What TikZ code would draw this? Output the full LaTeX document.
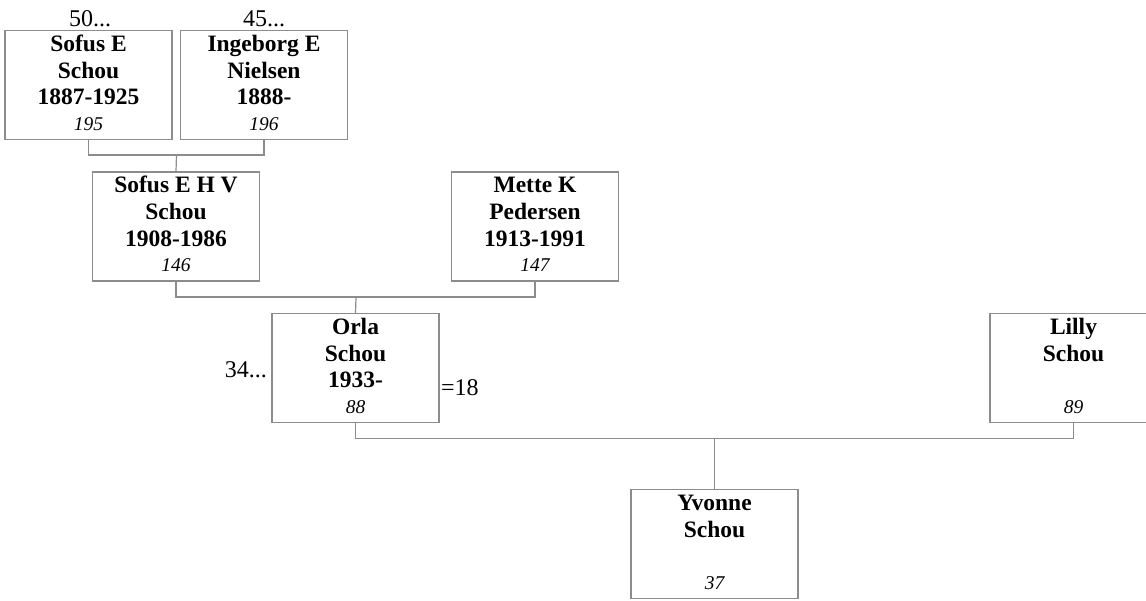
\documentclass[tikz,border=0pt]{standalone}
\usepackage{fontspec}
\setmainfont{Liberation Serif}
\definecolor{boxgray}{RGB}{140,140,140}
\definecolor{linegray}{RGB}{140,140,140}
\tikzset{
  box/.style={draw=boxgray, line width=1.2pt, minimum width=167pt, minimum height=109pt, inner sep=0pt},
  nm/.style={font=\fontsize{23.5}{26}\selectfont\bfseries, anchor=base, inner sep=0pt},
  num/.style={font=\fontsize{19.5}{22}\selectfont\itshape, anchor=base, inner sep=0pt},
  lab/.style={font=\fontsize{24}{26}\selectfont, anchor=base, inner sep=0pt},
  link/.style={draw=linegray, line width=1.2pt}
}
% #1 node name, #2 position, #3 line1, #4 line2, #5 line3, #6 number
\newcommand\personbox[6]{%
  \node[box] (#1) at (#2) {};
  \node[nm] (#1-a) at ([yshift=-21.5pt]#1.north) {#3};
  \node[nm] (#1-b) at ([yshift=-48.5pt]#1.north) {#4};
  \node[nm] (#1-c) at ([yshift=-75pt]#1.north) {#5};
  \node[num] (#1-n) at ([yshift=-100.5pt]#1.north) {#6};
}
\begin{document}
\begin{tikzpicture}[x=1pt,y=-1pt]
\useasboundingbox (0,0) rectangle (1146,600);
\clip (0,0) rectangle (1146,600);
\personbox{a}{88.5,85}{Sofus E}{Schou}{1887-1925}{195}
\personbox{b}{264,85}{Ingeborg E}{Nielsen}{1888-}{196}
\personbox{c}{176,226.5}{Sofus E H V}{Schou}{1908-1986}{146}
\personbox{d}{535,226.5}{Mette K}{Pedersen}{1913-1991}{147}
\personbox{e}{355.5,368}{Orla}{Schou}{1933-}{88}
\personbox{f}{1073.5,368}{Lilly}{Schou}{}{89}
\personbox{g}{714.5,544}{Yvonne}{Schou}{}{37}
% labels
\node[lab] (l50) at (90,26.5) {50...};
\node[lab] (l45) at (264,26.5) {45...};
\node[lab, anchor=base east] (l34) at (267,377.5) {34...};
\node[lab, anchor=base west] (l18) at (441,395) {=18};
% connectors
\coordinate (ab) at (176.5,155);
\draw[link] (a.south) |- (ab) -| (b.south);
\draw[link] (ab) -- (c.north);
\coordinate (cd) at (356,297);
\draw[link] (c.south) |- (cd) -| (d.south);
\draw[link] (cd) -- (e.north);
\coordinate (ef) at (714.5,438.5);
\draw[link] (e.south) |- (ef) -| (f.south);
\draw[link] (ef) -- (g.north);
\end{tikzpicture}
\end{document}
